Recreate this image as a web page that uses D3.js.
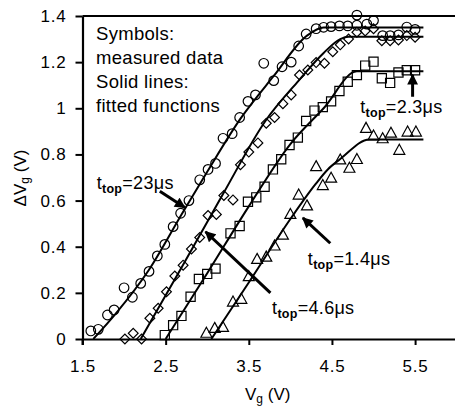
<!DOCTYPE html>
<html><head><meta charset="utf-8">
<script src="https://cdn.jsdelivr.net/npm/d3@7/dist/d3.min.js"></script>
<style>
body{margin:0;background:#fff}
text{font-family:"Liberation Sans",Arial,Helvetica,sans-serif;fill:#000}
</style></head><body>
<svg id="c" width="455" height="406"></svg>
<script>
// ---- data ----
const xTicks = [1.5, 2.5, 3.5, 4.5, 5.5];
const yTicks = [0, 0.2, 0.4, 0.6, 0.8, 1, 1.2, 1.4];

// t_top = 23 us (circles)
const circX = [1.60,1.69,1.80,1.88,2.00,2.10,2.20,2.30,2.40,2.49,2.59,2.68,2.78,2.91,3.01,3.10,3.19,3.30,3.39,3.49,3.58,3.68,3.80,3.90,4.01,4.10,4.19,4.31,4.40,4.49,4.59,4.69,4.80,4.80,4.92,5.00,5.11,5.20,5.30,5.40,5.50];
const circY = [0.035,0.042,0.104,0.126,0.222,0.181,0.241,0.293,0.36,0.41,0.487,0.545,0.60,0.69,0.735,0.761,0.87,0.89,0.96,1.03,1.058,1.195,1.12,1.18,1.20,1.27,1.322,1.345,1.351,1.354,1.357,1.357,1.404,1.36,1.365,1.38,1.315,1.315,1.318,1.352,1.342];
// t_top = 4.6 us (diamonds)
const diamX = [2.01,2.11,2.21,2.31,2.41,2.51,2.61,2.71,2.81,2.91,3.01,3.11,3.20,3.31,3.40,3.50,3.61,3.71,3.81,3.91,4.01,4.11,4.21,4.31,4.41,4.51,4.60,4.70,4.80,4.90,5.00,5.10,5.20,5.30,5.40,5.50];
const diamY = [0,0.025,0,0.09,0.133,0.205,0.273,0.32,0.39,0.44,0.535,0.54,0.622,0.603,0.755,0.81,0.85,0.935,0.96,1.02,1.058,1.144,1.166,1.198,1.195,1.245,1.275,1.30,1.33,1.335,1.345,1.293,1.293,1.296,1.315,1.308];
// t_top = 2.3 us (squares)
const sqX = [2.49,2.59,2.69,2.80,2.90,3.00,3.10,3.28,3.39,3.49,3.59,3.69,3.79,3.89,3.99,4.09,4.19,4.29,4.39,4.49,4.59,4.69,4.80,4.90,5.00,5.10,5.20,5.30,5.40,5.50];
const sqY = [0.017,0.06,0.10,0.183,0.26,0.282,0.305,0.458,0.49,0.595,0.614,0.66,0.735,0.779,0.841,0.873,0.945,0.99,1.005,1.03,1.075,1.115,1.144,1.185,1.202,1.13,1.11,1.155,1.165,1.165];
// t_top = 1.4 us (triangles)
const triX = [2.99,3.09,3.19,3.31,3.41,3.50,3.60,3.71,3.81,3.91,4.00,4.10,4.20,4.31,4.39,4.49,4.60,4.71,4.80,4.91,5.00,5.11,5.21,5.31,5.41,5.51];
const triY = [0.025,0.046,0.05,0.16,0.172,0.27,0.345,0.355,0.403,0.45,0.54,0.624,0.577,0.747,0.665,0.697,0.776,0.74,0.778,0.913,0.88,0.868,0.892,0.818,0.897,0.897];

// fitted functions (knots)
const circFitX = [1.63,1.9,2.3,2.7,3.0,3.4,3.8,4.2,4.4,5.6];
const circFitY = [0,0.11,0.30,0.545,0.725,0.955,1.14,1.315,1.35,1.35];
const diamFitX = [2.2,2.7,3.2,3.7,4.1,4.4,4.6,4.7,5.6];
const diamFitY = [0,0.315,0.635,0.945,1.12,1.24,1.30,1.31,1.31];
const sqFitX = [2.5,3.0,3.5,4.0,4.4,4.8,5.6];
const sqFitY = [0,0.285,0.575,0.845,1.0,1.16,1.16];
const triFitX = [3.05,3.5,4.0,4.3,4.45,4.6,4.95,5.6];
const triFitY = [0,0.245,0.52,0.67,0.735,0.78,0.865,0.865];

// annotations: label, label anchor (data), arrow tail and head (data)
const annLabels = ["23μs","4.6μs","1.4μs","2.3μs"];
const annTextX = [1.67,3.78,4.21,4.84];
const annTextY = [0.65,0.107,0.32,0.98];
const annTailX = [2.43,3.76,4.48,5.47];
const annTailY = [0.64,0.20,0.415,1.05];
const annHeadX = [2.73,2.98,4.15,5.47];
const annHeadY = [0.57,0.465,0.525,1.145];

const legendLines = ["Symbols:","measured data","Solid lines:","fitted functions"];

// ---- chart ----
const svg = d3.select("#c");
const x = d3.scaleLinear().domain([1.5, 5.98]).range([82.5, 455]);
const y = d3.scaleLinear().domain([0, 1.4]).range([339, 16]);

// axes
const gx = svg.append("g").attr("transform", `translate(0,${y(0)})`)
  .call(d3.axisBottom(x).tickValues(xTicks).tickSize(6).tickSizeOuter(0).tickPadding(15).tickFormat(d3.format(".1f")));
const gy = svg.append("g").attr("transform", `translate(${x(1.5)},0)`)
  .call(d3.axisLeft(y).tickValues(yTicks).tickSize(7).tickSizeOuter(0).tickPadding(9).tickFormat(d => d === 0 ? "0" : d === 1 ? "1" : d3.format(".1f")(d)));
[gx, gy].forEach(g => {
  g.select(".domain").attr("stroke", "#000").attr("stroke-width", 2.2);
  g.selectAll(".tick line").attr("stroke", "#000").attr("stroke-width", 2);
  g.selectAll(".tick text").attr("font-size", 17).attr("letter-spacing", 0.8)
    .style("font-family", '"Liberation Sans",Arial,sans-serif');
});
// extend y axis a bit below 0, and top frame line
svg.append("line").attr("x1", x(1.5)).attr("x2", x(1.5)).attr("y1", y(0)).attr("y2", y(0) + 6)
  .attr("stroke", "#000").attr("stroke-width", 2);
svg.append("line").attr("x1", x(1.5)).attr("x2", x(5.98)).attr("y1", y(1.4)).attr("y2", y(1.4))
  .attr("stroke", "#000").attr("stroke-width", 2.2);

// markers
const mk = svg.append("g").attr("fill", "none").attr("stroke", "#000").attr("stroke-width", 1.2);
const zip = (a, b) => a.map((v, i) => [v, b[i]]);
mk.selectAll(".c").data(zip(circX, circY)).join("circle")
  .attr("cx", d => x(d[0])).attr("cy", d => y(d[1])).attr("r", 4.8);
const sym = (type, size) => d3.symbol().type(type).size(size)();
mk.selectAll(".d").data(zip(diamX, diamY)).join("path")
  .attr("transform", d => `translate(${x(d[0])},${y(d[1])}) rotate(45)`).attr("d", sym(d3.symbolSquare, 48));
mk.selectAll(".s").data(zip(sqX, sqY)).join("path")
  .attr("transform", d => `translate(${x(d[0])},${y(d[1])})`).attr("d", sym(d3.symbolSquare, 84));
const triPath = "M0,-6L5.5,4L-5.5,4Z";
mk.selectAll(".t").data(zip(triX, triY)).join("path")
  .attr("transform", d => `translate(${x(d[0])},${y(d[1])})`).attr("d", triPath);

// fitted lines
const line = d3.line().x(d => x(d[0])).y(d => y(d[1])).curve(d3.curveMonotoneX);
[[circFitX, circFitY], [diamFitX, diamFitY], [sqFitX, sqFitY], [triFitX, triFitY]].forEach(([a, b]) => {
  svg.append("path").datum(zip(a, b)).attr("d", line)
    .attr("fill", "none").attr("stroke", "#000").attr("stroke-width", 2);
});

// legend text
svg.append("g").selectAll("text").data(legendLines).join("text")
  .attr("x", 96).attr("y", (d, i) => 40 + i * 24).attr("font-size", 18.5).attr("letter-spacing", 0.3).text(d => d);

// arrows
const defs = svg.append("defs");
defs.append("marker").attr("id", "ah").attr("viewBox", "0 0 10 10").attr("refX", 9).attr("refY", 5)
  .attr("markerWidth", 4).attr("markerHeight", 3.6).attr("orient", "auto").attr("markerUnits", "strokeWidth")
  .append("path").attr("d", "M0,0L10,5L0,10Z").attr("fill", "#000");
annLabels.forEach((lab, i) => {
  svg.append("line").attr("x1", x(annTailX[i])).attr("y1", y(annTailY[i]))
    .attr("x2", x(annHeadX[i])).attr("y2", y(annHeadY[i]))
    .attr("stroke", "#000").attr("stroke-width", 3).attr("marker-end", "url(#ah)");
  const t = svg.append("text").attr("x", x(annTextX[i])).attr("y", y(annTextY[i])).attr("font-size", 18).attr("letter-spacing", 0.3);
  t.append("tspan").text("t");
  t.append("tspan").attr("font-size", 12.5).attr("font-weight", "bold").attr("dy", 4).text("top");
  t.append("tspan").attr("dy", -4).text("=" + lab);
});

// axis titles
const xt = svg.append("text").attr("x", 245).attr("y", 400).attr("font-size", 17);
xt.append("tspan").text("V");
xt.append("tspan").attr("font-size", 12).attr("dy", 3).text("g");
xt.append("tspan").attr("dy", -3).text(" (V)");
const yt = svg.append("text").attr("transform", "translate(26,178) rotate(-90)").attr("text-anchor", "middle").attr("font-size", 17);
yt.append("tspan").text("ΔV");
yt.append("tspan").attr("font-size", 12).attr("dy", 3).text("g");
yt.append("tspan").attr("dy", -3).text(" (V)");
</script></body></html>
